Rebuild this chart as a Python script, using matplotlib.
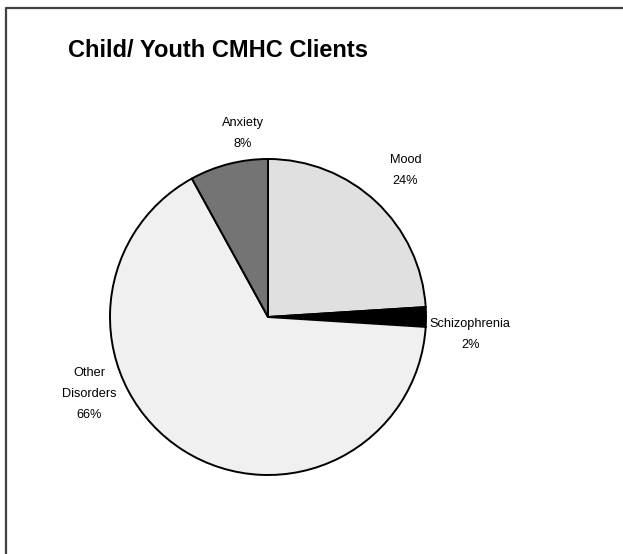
import matplotlib.pyplot as plt
from matplotlib.lines import Line2D

plt.rcParams['font.family'] = ['Liberation Sans', 'DejaVu Sans']

labels = ['Mood', 'Schizophrenia', 'Other\nDisorders', 'Anxiety']
shares = [24, 2, 66, 8]
colors = ['#e0e0e0', '#000000', '#f0f0f0', '#747474']
# where each label sits, in units of the pie radius
label_pos = [(0.87, 0.93), (1.28, -0.11), (-1.13, -0.49), (-0.16, 1.16)]

W, H = 623, 554
cx, cy, r = 268, 317, 158

fig = plt.figure(figsize=(W / 100, H / 100), dpi=100)
ax = fig.add_axes([0, 0, 1, 1])
ax.pie(shares, colors=colors, startangle=90, counterclock=False,
       wedgeprops=dict(edgecolor='black', linewidth=1.4))
ax.set_xlim(-cx / r, (W - cx) / r)
ax.set_ylim((cy - H) / r, cy / r)
ax.set_aspect('auto')
ax.axis('off')

for lab, val, (x, y) in zip(labels, shares, label_pos):
    ax.text(x, y, f'{lab}\n{val}%', ha='center', va='center',
            fontsize=9.2, linespacing=2.0)

fig.text(68 / W, 1 - 57 / H, 'Child/ Youth CMHC Clients', fontsize=17,
         fontweight='bold', ha='left', va='baseline')

# chart area border (left and top edges visible)
fig.add_artist(Line2D([6 / W, 6 / W, 1.0], [0.0, 1 - 8 / H, 1 - 8 / H],
                      color='#404040', linewidth=1.6))

fig.savefig('out.png', dpi=100)
